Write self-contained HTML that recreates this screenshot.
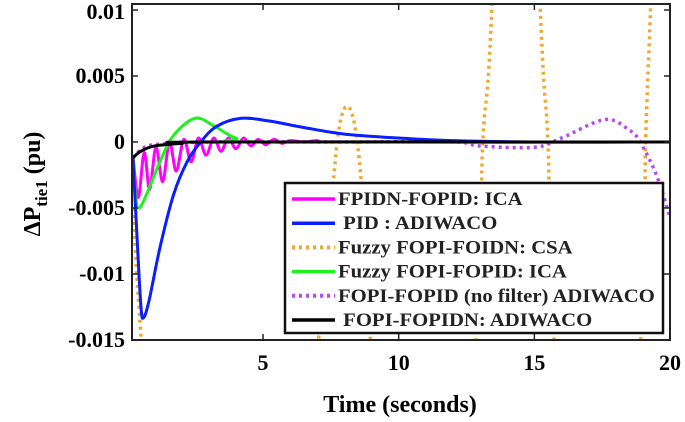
<!DOCTYPE html>
<html><head><meta charset="utf-8"><style>
html,body{margin:0;padding:0;background:#fff;width:685px;height:422px;overflow:hidden;}
svg{display:block;font-family:"Liberation Serif",serif;font-weight:bold;}
</style></head><body>
<svg id="chart" width="685" height="422" viewBox="0 0 685 422" xmlns="http://www.w3.org/2000/svg">
<defs><clipPath id="plotclip"><rect x="132" y="4" width="538" height="336"/></clipPath></defs>
<g id="plot" clip-path="url(#plotclip)"></g>
<rect x="132" y="4" width="538" height="336" fill="none" stroke="#222" stroke-width="2"/>
<g id="ticks"></g>
<text x="400" y="412" font-size="24" text-anchor="middle">Time (seconds)</text>
<text transform="translate(40,184) rotate(-90)" font-size="24" text-anchor="middle">ΔP<tspan font-size="17" dy="7">tie1</tspan><tspan dy="-7"> (pu)</tspan></text>
<g>
<rect x="285" y="183" width="378" height="150" fill="#fff" stroke="#111" stroke-width="2.5"/>
<g id="legend-items"></g>
</g>
</svg>
<script>
const xTicks=[5,10,15,20];
const yTicks=[0.01,0.005,0,-0.005,-0.01,-0.015];
const yTickLabels=["0.01","0.005","0","-0.005","-0.01","-0.015"];
const seriesNames=["FPIDN-FOPID: ICA","PID : ADIWACO","Fuzzy FOPI-FOIDN: CSA","Fuzzy FOPI-FOPID: ICA","FOPI-FOPID (no filter) ADIWACO"," FOPI-FOPIDN: ADIWACO"];
const magentaT=[0.2,0.4,0.62,0.82,1.05,1.3,1.55,1.8,2.08,2.35,2.62,2.9,3.18,3.45,3.72,4.0,4.28,4.55,4.82,5.1,5.4,5.7,6.0,6.5,7.0,8,20];
const magentaV=[-0.001,-0.0042,-0.0008,-0.0036,-0.0004,-0.003,0.0,-0.0022,0.0002,-0.0015,0.0003,-0.001,0.0003,-0.0007,0.0003,-0.0005,0.0003,-0.0003,0.0002,-0.0002,0.0002,-0.0001,0.0001,0,0.0001,0,0];
const blueT=[0.2,0.35,0.5,0.6,0.8,1.2,1.7,2.2,2.7,3.3,4.2,5.2,6.5,8,10,12,15,20];
const blueV=[-0.001,-0.007,-0.0125,-0.0133,-0.012,-0.008,-0.004,-0.0015,0,0.0012,0.0018,0.0016,0.0011,0.0006,0.0003,0.0001,0,0];
const orangeT=[0.2,0.55,1.5,4,6,7.0,7.5,7.8,8.1,8.4,8.7,9.0,10.9,12.8,13.1,13.45,14.3,15.2,15.5,15.75,17.3,18.9,19.1,19.3,20];
const orangeV=[-0.005,-0.016,-0.04,-0.06,-0.04,-0.016,-0.005,0.001,0.0027,0.001,-0.005,-0.016,-0.06,-0.016,0,0.011,0.06,0.011,0,-0.016,-0.08,-0.016,0,0.011,0.05];
const greenT=[0.2,0.3,0.42,0.7,1.2,1.7,2.5,3.2,4,5,20];
const greenV=[-0.001,-0.004,-0.005,-0.004,-0.0015,0.0005,0.0018,0.0012,0.0003,0,0];
const purpleT=[0.2,0.5,1,3,8,12,13,15,16,17.6,18.5,18.9,19.5,20];
const purpleV=[-0.0012,-0.0006,-0.0002,0,0,0,-0.0003,-0.0004,0.0003,0.0017,0.0009,0,-0.0025,-0.0057];
const blackT=[0.2,0.5,1,2,3,20];
const blackV=[-0.0012,-0.0007,-0.0003,-0.0001,0,0];
const xs=t=>127.4+27.13*t;
const ys=v=>142-v*13200;
const NS="http://www.w3.org/2000/svg";
function path(T,V){
  const p=T.map((t,i)=>[xs(t),ys(V[i])]);
  let d="M"+p[0][0]+","+p[0][1];
  for(let i=0;i<p.length-1;i++){
    const p0=p[i-1]||p[i],p1=p[i],p2=p[i+1],p3=p[i+2]||p2;
    const c1=[p1[0]+(p2[0]-p0[0])/6,p1[1]+(p2[1]-p0[1])/6];
    const c2=[p2[0]-(p3[0]-p1[0])/6,p2[1]-(p3[1]-p1[1])/6];
    d+=` C${c1[0]},${c1[1]} ${c2[0]},${c2[1]} ${p2[0]},${p2[1]}`;
  }
  return d;
}
const plot=document.getElementById("plot");
const styles=[
 {T:magentaT,V:magentaV,c:"#ff00ff",w:3,da:"",n:"series-fpidn-fopid-ica"},
 {T:blueT,V:blueV,c:"#0a1eff",w:3,da:"",n:"series-pid-adiwaco"},
 {T:orangeT,V:orangeV,c:"#f0a830",w:3.5,da:"3,4",n:"series-fuzzy-fopi-foidn-csa"},
 {T:greenT,V:greenV,c:"#20f020",w:3,da:"",n:"series-fuzzy-fopi-fopid-ica"},
 {T:purpleT,V:purpleV,c:"#b44cf0",w:3.5,da:"3,4",n:"series-fopi-fopid-no-filter"},
 {T:blackT,V:blackV,c:"#000",w:3,da:"",n:"series-fopi-fopidn-adiwaco"}];
const order=[2,4,0,3,1,5];
order.forEach(i=>{const s=styles[i];
  const el=document.createElementNS(NS,"path");
  el.setAttribute("d",path(s.T,s.V));
  el.setAttribute("fill","none");el.setAttribute("stroke",s.c);el.setAttribute("stroke-width",s.w);
  if(s.da)el.setAttribute("stroke-dasharray",s.da);
  
  
  plot.appendChild(el);
});
const tk=document.getElementById("ticks");
xTicks.forEach(t=>{const x=xs(t);
  tk.insertAdjacentHTML("beforeend",`<line x1="${x}" y1="340" x2="${x}" y2="334" stroke="#222" stroke-width="1.5"/><line x1="${x}" y1="4" x2="${x}" y2="10" stroke="#222" stroke-width="1.5"/>`);
  const tx=document.createElementNS(NS,"text");
  tx.setAttribute("x",x);tx.setAttribute("y",370);tx.setAttribute("font-size","22");tx.setAttribute("text-anchor","middle");
  tx.textContent=t;
  
  
  tk.appendChild(tx);
});
yTicks.forEach((v,i)=>{const y=ys(v);
  tk.insertAdjacentHTML("beforeend",`<line x1="132" y1="${y}" x2="138" y2="${y}" stroke="#222" stroke-width="1.5"/><line x1="670" y1="${y}" x2="664" y2="${y}" stroke="#222" stroke-width="1.5"/>`);
  const tx=document.createElementNS(NS,"text");
  tx.setAttribute("x",125);tx.setAttribute("y",Math.max(y+7,19));tx.setAttribute("font-size","22");tx.setAttribute("text-anchor","end");
  tx.textContent=yTickLabels[i];
  
  
  tk.appendChild(tx);
});
const lg=document.getElementById("legend-items");
seriesNames.forEach((nm,i)=>{const s=styles[i];const y=199+i*24.2;
  const ln=document.createElementNS(NS,"line");
  ln.setAttribute("x1",292);ln.setAttribute("x2",335);ln.setAttribute("y1",y);ln.setAttribute("y2",y);
  ln.setAttribute("stroke",s.c);ln.setAttribute("stroke-width",s.w+0.5);
  if(s.da)ln.setAttribute("stroke-dasharray",s.da);
  
  
  lg.appendChild(ln);
  const tx=document.createElementNS(NS,"text");
  tx.setAttribute("x",0);tx.setAttribute("y",0);tx.setAttribute("font-size","18.5");tx.setAttribute("fill","#222");
  tx.setAttribute("transform",`translate(338,${y+6}) scale(1.12,1)`);
  tx.setAttribute("xml:space","preserve");tx.style.whiteSpace="pre";
  tx.textContent=(i==1?" ":"")+nm;
  
  
  lg.appendChild(tx);
});
</script>
</body></html>
